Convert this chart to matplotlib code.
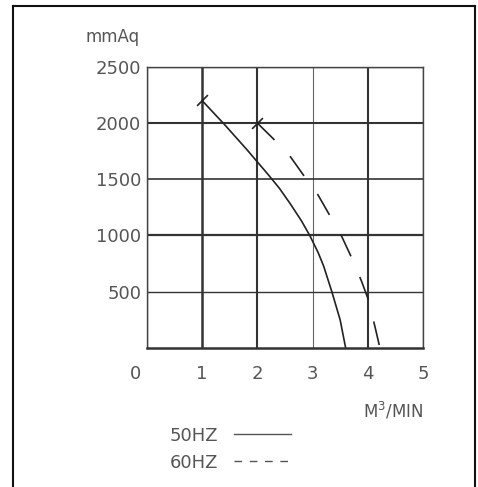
"""ファン静圧特性カーブ (50Hz / 60Hz)"""
import matplotlib
matplotlib.use("Agg")
import matplotlib.pyplot as plt
from matplotlib.lines import Line2D
from matplotlib.transforms import ScaledTranslation

# 風量 (m3/min) と静圧 (mmAq)
flow_50hz = [1.0, 1.4, 1.8, 2.2, 2.4, 2.6, 2.8, 2.95, 3.1, 3.2, 3.35, 3.5, 3.6]
pressure_50hz = [2200, 1990, 1770, 1540, 1420, 1280, 1130, 1000, 850, 730, 500, 250, 0]

flow_60hz = [2.0, 2.29, 2.6, 2.86, 3.1, 3.31, 3.53, 3.71, 3.89, 4.01, 4.13, 4.22]
pressure_60hz = [2000, 1860, 1700, 1520, 1360, 1180, 990, 800, 590, 430, 190, 0]

x_ticks = [0, 1, 2, 3, 4, 5]
y_ticks = [500, 1000, 1500, 2000, 2500]

TEXT = "#555555"
INK = "#222222"

fig = plt.figure(figsize=(4.78, 4.87), dpi=100)
ax = fig.add_axes([0.307, 0.2854, 0.578, 0.5776])

ax.set_xlim(0, 5)
ax.set_ylim(0, 2500)
ax.set_xticks(x_ticks)
ax.set_yticks(y_ticks)
ax.tick_params(length=0, labelsize=13, labelcolor=TEXT)
ax.tick_params(axis="x", pad=12)
ax.tick_params(axis="y", pad=4)

# 格子線（太さがまちまちな手描き風）
ax.grid(True, color="#333333", linewidth=1.0)
x_widths = [1.0, 1.8, 1.5, 0.8, 1.5, 1.0]
for gl, w in zip(ax.xaxis.get_gridlines(), x_widths):
    gl.set_linewidth(w)
ax.xaxis.get_gridlines()[3].set_color("#666666")
y_widths = [1.0, 1.6, 1.2, 1.5, 1.0]
for gl, w in zip(ax.yaxis.get_gridlines(), y_widths):
    gl.set_linewidth(w)
for side, sp in ax.spines.items():
    sp.set_color("#444444")
    sp.set_linewidth(1.0)
ax.spines["bottom"].set_linewidth(1.8)
ax.spines["bottom"].set_color("#333333")

# 「0」だけ左にずらす
lbl0 = ax.get_xticklabels()[0]
lbl0.set_transform(lbl0.get_transform() + ScaledTranslation(-8 / 72, 0, fig.dpi_scale_trans))

ax.plot(flow_50hz, pressure_50hz, color=INK, linewidth=1.2, clip_on=False)
ax.plot(flow_60hz, pressure_60hz, color=INK, linewidth=1.2,
        linestyle=(0, (14.5, 13.5)), clip_on=False)

# 始点の目印
ax.plot([flow_50hz[0]], [pressure_50hz[0]], marker=(2, 0, -45), markersize=11,
        markeredgewidth=1.2, color=INK, linestyle="none", clip_on=False)
ax.plot([flow_60hz[0]], [pressure_60hz[0]], marker=(2, 0, -45), markersize=11,
        markeredgewidth=1.2, color=INK, linestyle="none", clip_on=False)

fig.text(0.236, 0.924, "mmAq", fontsize=12, color=TEXT, ha="center", va="center")
fig.text(0.822, 0.156, "M$^3$/MIN", fontsize=12, color=TEXT, ha="center", va="center")

handles = [
    Line2D([], [], color="#555555", linewidth=1.0),
    Line2D([], [], color="#555555", linewidth=1.0, linestyle=(0, (5.5, 5.5))),
]
fig.legend(handles, ["50HZ", "60HZ"], loc="upper left", bbox_to_anchor=(0.355, 0.124),
           frameon=False, markerfirst=False, fontsize=13, labelcolor=TEXT,
           handlelength=3.15, handletextpad=0.9, labelspacing=0.5, borderpad=0,
           borderaxespad=0)

# 外枠（下辺なし）
for xs, ys in [([0.0272, 0.0272], [0.0, 0.9877]),
               ([0.0272, 0.9937], [0.9877, 0.9877]),
               ([0.9937, 0.9937], [0.9877, 0.0])]:
    fig.add_artist(Line2D(xs, ys, transform=fig.transFigure, color="#111111", linewidth=1.5))

fig.savefig("out.png", dpi=100)
plt.close(fig)
